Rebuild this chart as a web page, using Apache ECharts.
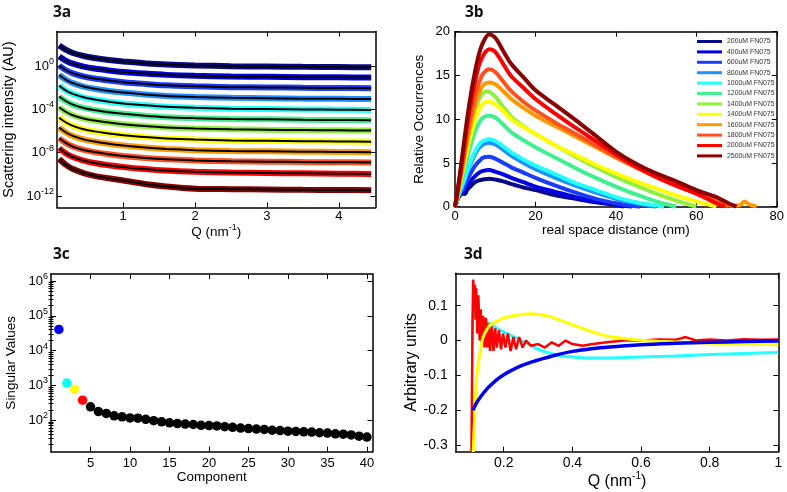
<!DOCTYPE html>
<html><head><meta charset="utf-8">
<script src="https://cdn.jsdelivr.net/npm/echarts@6/dist/echarts.min.js"></script>
<style>html,body{margin:0;padding:0;background:#fff}#c{width:787px;height:492px}</style>
</head><body><div id="c"></div>
<script>
// ================= 3a : scattering curves (log10 intensity) =================
const qA = [0.11, 0.2, 0.3, 0.45, 0.6, 0.8, 1.0, 1.3, 1.6, 2.0, 2.5, 3.0, 3.5, 4.0, 4.45];
const logI200  = [1.88, 1.50, 1.20, 0.92, 0.74, 0.56, 0.42, 0.26, 0.14, 0.05, -0.02, -0.05, -0.08, -0.10, -0.12];
const logI400  = [0.87, 0.50, 0.21, -0.06, -0.24, -0.41, -0.55, -0.70, -0.82, -0.91, -0.97, -1.00, -1.03, -1.05, -1.07];
const logI600  = [0.03, -0.37, -0.68, -0.97, -1.16, -1.34, -1.49, -1.65, -1.78, -1.87, -1.95, -1.98, -2.01, -2.03, -2.05];
const logI800  = [-0.83, -1.25, -1.58, -1.90, -2.10, -2.30, -2.45, -2.63, -2.76, -2.86, -2.94, -2.97, -3.01, -3.03, -3.05];
const logI1000 = [-1.81, -2.24, -2.57, -2.89, -3.09, -3.29, -3.45, -3.62, -3.76, -3.86, -3.94, -3.97, -4.01, -4.03, -4.05];
const logI1200 = [-2.82, -3.23, -3.56, -3.87, -4.06, -4.26, -4.41, -4.59, -4.72, -4.81, -4.89, -4.92, -4.96, -4.98, -5.00];
const logI1400a= [-3.81, -4.22, -4.54, -4.84, -5.03, -5.22, -5.37, -5.54, -5.67, -5.77, -5.84, -5.88, -5.91, -5.93, -5.95];
const logI1400b= [-4.77, -5.19, -5.52, -5.83, -6.03, -6.23, -6.38, -6.56, -6.69, -6.79, -6.87, -6.90, -6.94, -6.96, -6.98];
const logI1600 = [-5.68, -6.11, -6.45, -6.77, -6.97, -7.18, -7.34, -7.52, -7.65, -7.76, -7.84, -7.87, -7.90, -7.93, -7.95];
const logI1800 = [-6.67, -7.09, -7.43, -7.74, -7.94, -8.14, -8.30, -8.48, -8.61, -8.71, -8.79, -8.82, -8.86, -8.88, -8.90];
const logI2000 = [-7.59, -8.04, -8.39, -8.72, -8.94, -9.15, -9.31, -9.50, -9.64, -9.75, -9.83, -9.87, -9.90, -9.93, -9.95];
const logI2500 = [-8.58, -9.10, -9.50, -9.87, -10.13, -10.36, -10.56, -10.88, -11.11, -11.31, -11.36, -11.39, -11.42, -11.44, -11.45];
const xTicksA = [1, 2, 3, 4];
const yTicksA = [-12, -8, -4, 0];

// ================= 3b : pair distance distributions =================
const pr200  = [[0,0],[1,1.2],[2,1.5],[2.5,1.45],[3,1.9],[4,2.4],[5,2.8],[6,3.0],[7,3.1],[8.5,3.2],[10,3.1],[12,2.9],[14,2.6],[17,2.2],[20,1.9],[25,1.3],[30,0.9],[35,0.5],[40,0.2],[42,0]];
const pr400  = [[0,0],[1,1.2],[2,1.6],[3,2.4],[4,3.0],[5,3.5],[6,3.9],[7,4.1],[8.5,4.2],[10,4.0],[12,3.7],[14,3.3],[17,2.8],[20,2.3],[25,1.7],[30,1.1],[35,0.6],[40,0.25],[44,0]];
const pr600  = [[0,0],[1,1.3],[2,2.0],[3,3.0],[4,3.9],[5,4.7],[6,5.2],[7,5.6],[8.5,5.7],[10,5.5],[12,5.0],[14,4.5],[17,3.9],[20,3.3],[25,2.4],[30,1.6],[35,0.9],[40,0.4],[44,0.1],[46,0]];
const pr800  = [[0,0],[1,1.4],[2,2.6],[3,3.9],[4,5.0],[5,6.0],[6,6.7],[7,7.1],[8.5,7.3],[10,7.1],[12,6.5],[14,5.8],[17,5.0],[20,4.3],[25,3.3],[30,2.4],[35,1.6],[40,0.9],[45,0.4],[50,0]];
const pr1000 = [[0,0],[1,1.5],[2,2.7],[3,4.0],[4,5.3],[5,6.3],[6,7.1],[7,7.5],[8.5,7.7],[10,7.5],[12,6.9],[14,6.2],[17,5.4],[20,4.7],[25,3.7],[30,2.7],[35,1.9],[40,1.1],[45,0.5],[50,0.15],[52,0]];
const pr1200 = [[0,0],[1,1.7],[2,3.6],[3,5.5],[4,7.2],[5,8.6],[6,9.6],[7,10.2],[8.5,10.4],[10,10.2],[12,9.4],[14,8.5],[17,7.6],[20,6.8],[25,5.6],[30,4.4],[35,3.3],[40,2.3],[45,1.4],[50,0.6],[55,0]];
const pr1400a= [[0,0],[1,2.2],[2,4.6],[3,7.0],[4,9.2],[5,11.0],[6,12.3],[7,13.0],[8,13.2],[10,12.6],[12,11.4],[14,10.3],[17,9.2],[20,8.3],[25,7.0],[30,5.7],[35,4.5],[40,3.4],[45,2.4],[50,1.5],[55,0.7],[60,0]];
const pr1400b= [[0,0],[1,2.0],[2,4.2],[3,6.4],[4,8.3],[5,9.9],[6,11.1],[7,11.8],[8.5,12.0],[10,11.7],[12,10.9],[14,10.0],[17,9.1],[20,8.3],[25,7.0],[30,5.9],[35,4.8],[40,3.8],[45,2.9],[50,2.1],[55,1.3],[60,0.6],[65,0]];
const pr1600 = [[0,0],[1,2.3],[2,4.8],[3,7.4],[4,9.6],[5,11.5],[6,13.0],[7,13.9],[8.5,14.2],[10,14.0],[12,13.2],[14,12.3],[17,11.3],[20,10.4],[25,9.2],[30,8.0],[35,6.8],[40,5.6],[45,4.5],[50,3.5],[55,2.6],[60,1.7],[65,0.8],[69,0.1],[71,0.2],[72,0.6],[73,0.3],[75,0]];
const pr1800 = [[0,0],[1,2.5],[2,5.3],[3,8.2],[4,10.6],[5,12.6],[6,14.2],[7,15.2],[8.5,15.7],[10,15.4],[12,14.3],[14,13.2],[17,12.0],[20,11.0],[25,9.6],[30,8.3],[35,7.0],[40,5.7],[45,4.5],[50,3.4],[55,2.4],[60,1.5],[65,0.6],[68,0]];
const pr2000 = [[0,0],[1,2.8],[2,6.0],[3,9.3],[4,12.0],[5,14.3],[6,16.2],[7,17.3],[8.5,18.0],[10,17.7],[12,16.3],[14,14.9],[17,13.6],[20,12.3],[25,10.6],[30,9.0],[35,7.5],[40,6.0],[45,4.6],[50,3.4],[55,2.4],[60,1.5],[64,0.6],[67,0]];
const pr2500 = [[0,0],[1,3.0],[2,6.5],[3,10.0],[4,13.0],[5,15.5],[6,17.5],[7,18.8],[8.5,19.7],[10,19.3],[12,17.8],[14,16.3],[17,14.8],[20,13.3],[25,11.6],[30,9.9],[35,8.1],[40,6.3],[45,4.9],[50,3.8],[55,2.9],[60,1.9],[65,1.1],[68,0.4],[70,0]];
const legendNames = ['200uM FN075','400uM FN075','600uM FN075','800uM FN075','1000uM FN075','1200uM FN075','1400uM FN075','1400uM FN075\u200b','1600uM FN075','1800uM FN075','2000uM FN075','2500uM FN075'];
const xTicksB = [0, 20, 40, 60, 80];
const yTicksB = [0, 5, 10, 15, 20];

// ================= 3c : singular values =================
const component = [1,2,3,4,5,6,7,8,9,10,11,12,13,14,15,16,17,18,19,20,21,22,23,24,25,26,27,28,29,30,31,32,33,34,35,36,37,38,39,40];
const singular  = [40700,1175,776,380,245,178,158,135,126,117,115,107,98,91,85,81,78,76,72,71,69,66,63,60,58,56,55,52,51,49,48,47,46,44,43,41,40,38,35,33];
const xTicksC = [5,10,15,20,25,30,35,40];
const yTicksC = [2,3,4,5,6];

// ================= 3d : SVD basis vectors =================
const vecRed = [[0.106,-0.32],[0.109,0.05],[0.111,0.175],[0.114,0.12],[0.116,0.16],[0.118,0.06],[0.12,0.15],[0.123,0.02],[0.126,0.13],[0.13,0.0],[0.133,0.09],[0.137,-0.01],[0.14,0.07],[0.144,-0.02],[0.148,0.065],[0.152,-0.02],[0.156,0.05],[0.16,-0.03],[0.165,0.04],[0.17,-0.03],[0.175,0.035],[0.18,-0.02],[0.186,0.03],[0.192,-0.025],[0.198,0.02],[0.205,-0.02],[0.212,0.02],[0.22,-0.03],[0.228,0.01],[0.236,-0.025],[0.245,0.01],[0.255,-0.02],[0.265,0.0],[0.28,-0.015],[0.3,-0.01],[0.32,-0.02],[0.34,-0.005],[0.36,-0.015],[0.38,0.0],[0.4,-0.01],[0.43,-0.015],[0.46,-0.01],[0.5,-0.005],[0.55,0.0],[0.6,0.0],[0.65,0.003],[0.7,0.002],[0.73,0.01],[0.76,0.0],[0.8,0.003],[0.85,0.0],[0.9,0.004],[0.95,0.002],[1.0,0.003]];
const vecYellow = [[0.111,-0.32],[0.114,-0.25],[0.117,-0.18],[0.12,-0.12],[0.125,-0.07],[0.13,-0.04],[0.135,-0.01],[0.14,0.01],[0.15,0.03],[0.16,0.045],[0.18,0.055],[0.2,0.065],[0.22,0.07],[0.25,0.075],[0.28,0.077],[0.3,0.075],[0.33,0.07],[0.36,0.06],[0.4,0.045],[0.45,0.028],[0.5,0.013],[0.55,0.006],[0.6,0.001],[0.65,-0.002],[0.7,-0.004],[0.8,-0.008],[0.9,-0.01],[1.0,-0.012]];
const vecCyan = [[0.108,0.0],[0.11,0.06],[0.112,0.088],[0.115,0.08],[0.12,0.07],[0.13,0.065],[0.14,0.06],[0.16,0.048],[0.18,0.035],[0.2,0.025],[0.22,0.015],[0.25,0.0],[0.28,-0.015],[0.3,-0.025],[0.33,-0.035],[0.36,-0.042],[0.4,-0.047],[0.45,-0.05],[0.5,-0.05],[0.55,-0.049],[0.6,-0.047],[0.7,-0.044],[0.8,-0.04],[0.9,-0.037],[1.0,-0.034]];
const vecBlue = [[0.11,-0.2],[0.115,-0.19],[0.12,-0.18],[0.13,-0.165],[0.14,-0.152],[0.15,-0.14],[0.16,-0.13],[0.18,-0.112],[0.2,-0.098],[0.22,-0.087],[0.25,-0.073],[0.28,-0.062],[0.3,-0.056],[0.35,-0.042],[0.4,-0.031],[0.45,-0.024],[0.5,-0.019],[0.6,-0.012],[0.7,-0.008],[0.8,-0.005],[0.9,-0.003],[1.0,-0.001]];
const xTicksD = [0.2, 0.4, 0.6, 0.8, 1];
const yTicksD = [-0.3, -0.2, -0.1, 0, 0.1];

// ================= styling =================
const FONT = 'Liberation Sans';
const jet = ['#08088c','#0000e6','#1a3cff','#1e90ff','#22ffff','#40f090','#90f040','#ffff00','#ff9900','#ff5020','#ff0000','#8b0000'];
const supRich = {
  b: {fontSize: 13, fontFamily: FONT, color: '#000'},
  s: {fontSize: 9, fontFamily: FONT, color: '#000', verticalAlign: 'top', padding: [0, 0, 9, 0]}
};
function nameStyle(fs) {
  return {fontSize: fs, fontFamily: FONT, color: '#000', rich: {
    s: {fontSize: Math.round(fs * 0.65), fontFamily: FONT, color: '#000', verticalAlign: 'top', padding: [0, 0, Math.round(fs * 0.6), 0]}
  }};
}
const supFmt = v => '{b|10}{s|' + v + '}';
const decFmt = v => (Math.abs(v) < 1e-9 ? '0' : String(+v.toFixed(1)));

function axisPair(dim, gi, min, max, ticks, fmt, name, nameGap, margin, labelSize, nameSize, rich) {
  const main = {
    type: 'value', gridIndex: gi, min: min, max: max,
    position: dim === 'x' ? 'bottom' : 'left',
    axisLine: {show: true, onZero: false, lineStyle: {color: '#000', width: 1.5}},
    axisTick: {show: true, inside: true, length: 5, customValues: ticks, lineStyle: {color: '#000', width: 1}},
    axisLabel: {show: true, customValues: ticks, formatter: fmt, margin: margin, color: '#000',
                fontSize: labelSize, fontFamily: FONT, rich: rich},
    splitLine: {show: false},
    name: name, nameLocation: 'middle', nameGap: nameGap, nameTextStyle: nameStyle(nameSize)
  };
  const mirror = {
    type: 'value', gridIndex: gi, min: min, max: max,
    position: dim === 'x' ? 'top' : 'right',
    axisLine: {show: true, onZero: false, lineStyle: {color: '#000', width: 1.5}},
    axisTick: {show: true, inside: true, length: 5, customValues: ticks, lineStyle: {color: '#000', width: 1}},
    axisLabel: {show: false}, splitLine: {show: false}
  };
  return [main, mirror];
}

// minor log ticks for 3c
const minorC = [];
for (let d = 1; d < 6; d++) for (let k = 2; k <= 9; k++) { const v = d + Math.log10(k); if (v > 1.1 && v < 6.2) minorC.push(v); }
function minorAxis(gi, min, max, pos, ticks) {
  return {type: 'value', gridIndex: gi, min: min, max: max, position: pos,
    axisLine: {show: false}, axisLabel: {show: false}, splitLine: {show: false},
    axisTick: {show: true, inside: true, length: 2.5, customValues: ticks, lineStyle: {color: '#000', width: 1}}};
}

const xAxis = [].concat(
  axisPair('x', 0, 0.08, 4.51, xTicksA, v => String(v), 'Q (nm{s|-1})', 15, 2, 13, 13.5),
  axisPair('x', 1, 0, 80, xTicksB, v => String(v), 'real space distance (nm)', 15, 3, 13, 13.5),
  axisPair('x', 2, 0, 40.7, xTicksC, v => String(v), 'Component', 18, 5, 13, 13.5),
  axisPair('x', 3, 0.06, 1, xTicksD, v => String(v), 'Q (nm{s|-1})', 20, 4, 14, 16)
);
const yAxis = [].concat(
  axisPair('y', 0, -13.05, 3.18, yTicksA, supFmt, 'Scattering intensity (AU)', 41, 3, 13, 14.5, supRich),
  axisPair('y', 1, 0, 20, yTicksB, v => String(v), 'Relative Occurrences', 29, 5, 13, 13.5),
  axisPair('y', 2, 1.1, 6.2, yTicksC, supFmt, 'Singular Values', 33, 3, 13, 13.5, supRich),
  axisPair('y', 3, -0.319, 0.193, yTicksD, decFmt, 'Arbitrary units', 35, 8, 14, 16),
  [minorAxis(2, 1.1, 6.2, 'left', minorC), minorAxis(2, 1.1, 6.2, 'right', minorC)]
);

const series = [];
// 3a
const curvesA = [logI200, logI400, logI600, logI800, logI1000, logI1200, logI1400a, logI1400b, logI1600, logI1800, logI2000, logI2500];
curvesA.forEach((c, i) => {
  const d = qA.map((q, j) => [q, c[j]]);
  series.push({type: 'line', xAxisIndex: 0, yAxisIndex: 0, data: d, showSymbol: false, smooth: 0.3, silent: true,
    lineStyle: {color: jet[i], width: 6}, z: 2});
});
curvesA.forEach((c, i) => {
  const d = qA.map((q, j) => [q, c[j]]);
  series.push({type: 'line', xAxisIndex: 0, yAxisIndex: 0, data: d, showSymbol: false, smooth: 0.3, silent: true,
    lineStyle: {color: '#000', width: 2}, z: 3});
});
// 3b
const curvesB = [pr200, pr400, pr600, pr800, pr1000, pr1200, pr1400a, pr1400b, pr1600, pr1800, pr2000, pr2500];
curvesB.forEach((c, i) => {
  series.push({type: 'line', name: legendNames[i], xAxisIndex: 2, yAxisIndex: 2, data: c, showSymbol: false, smooth: 0.3,
    silent: true, itemStyle: {color: jet[i]}, lineStyle: {color: jet[i], width: 4}});
});
// 3c
const svColors = ['#0000ff', '#00ffff', '#ffff00', '#ff0000'];
series.push({type: 'scatter', xAxisIndex: 4, yAxisIndex: 4, symbolSize: 9.5, silent: true,
  data: component.map((k, i) => ({value: [k, Math.log10(singular[i])], itemStyle: {color: svColors[i] || '#000', opacity: 1}}))});
// 3d
[[vecCyan, '#22ffff', 3], [vecRed, '#ff0000', 2.5], [vecYellow, '#ffff00', 3], [vecBlue, '#0000ee', 3.5]].forEach(([d, col, w]) => {
  series.push({type: 'line', xAxisIndex: 6, yAxisIndex: 6, data: d, showSymbol: false, silent: true,
    smooth: d === vecRed ? false : 0.3, lineStyle: {color: col, width: w}});
});

const titleStyle = {fontSize: 15.5, fontWeight: 'bold', fontFamily: 'Open Sans', color: '#111'};
const option = {
  animation: false,
  backgroundColor: '#fff',
  title: [
    {text: '3a', left: 53, top: 5, padding: 0, textStyle: titleStyle},
    {text: '3b', left: 465, top: 5, padding: 0, textStyle: titleStyle},
    {text: '3c', left: 53, top: 246.5, padding: 0, textStyle: titleStyle},
    {text: '3d', left: 464, top: 246.5, padding: 0, textStyle: titleStyle}
  ],
  grid: [
    {left: 52, top: 31.5, width: 323.5, height: 176},
    {left: 455, top: 31.7, width: 325, height: 175},
    {left: 51, top: 274, width: 321.5, height: 177.7},
    {left: 455.7, top: 273.3, width: 322.6, height: 178.4}
  ],
  legend: {
    data: legendNames, orient: 'vertical', left: 697, top: 37.5, padding: 0,
    itemWidth: 25, itemHeight: 3, itemGap: 2.4, icon: 'rect', selectedMode: false,
    textStyle: {fontSize: 6.9, lineHeight: 8, color: '#333', fontFamily: FONT}
  },
  xAxis: xAxis,
  yAxis: yAxis,
  series: series
};
const chart = echarts.init(document.getElementById('c'), null, {renderer: 'canvas'});
chart.setOption(option);
</script>
</body></html>
